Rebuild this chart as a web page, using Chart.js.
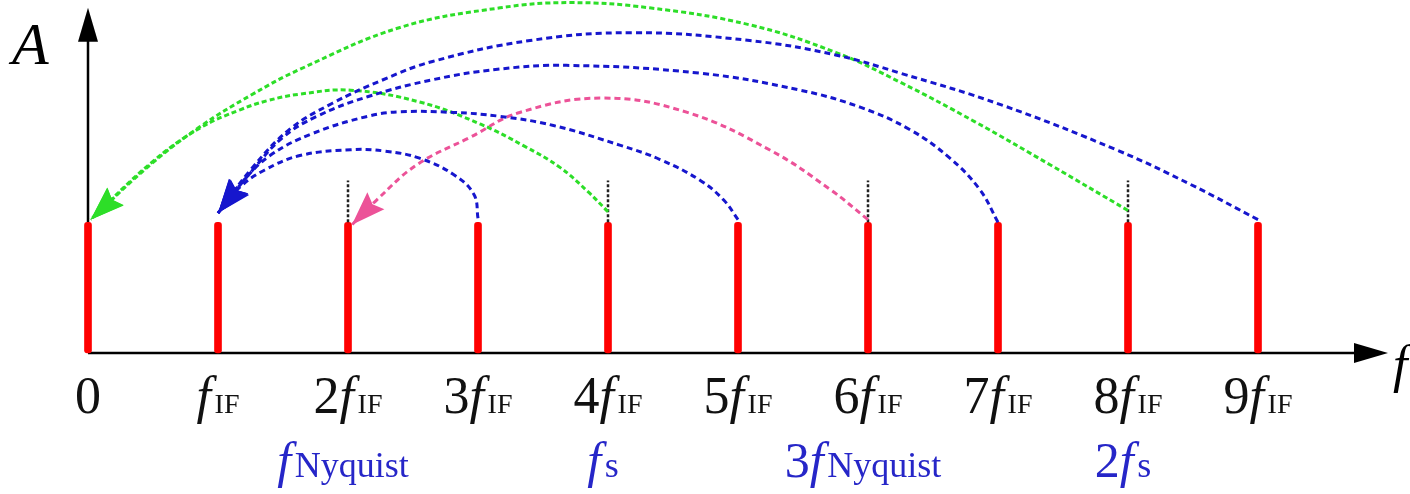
<!DOCTYPE html>
<html>
<head>
<meta charset="utf-8">
<script src="https://cdn.jsdelivr.net/npm/chart.js@4.4.1/dist/chart.umd.min.js"></script>
<style>
  html, body { margin: 0; padding: 0; background: #fff; }
  #wrap { width: 1410px; height: 494px; }
</style>
</head>
<body>
<div id="wrap"><canvas id="chartSpectrum"></canvas></div>
<script>
// harmonics of the IF frequency and their amplitude
const harmonics = [0, 1, 2, 3, 4, 5, 6, 7, 8, 9];
const amplitude = [1, 1, 1, 1, 1, 1, 1, 1, 1, 1];
const tickLabels = ['0', 'f_IF', '2f_IF', '3f_IF', '4f_IF', '5f_IF', '6f_IF', '7f_IF', '8f_IF', '9f_IF'];

// sampling related marks under the axis
const samplingAt = [2, 4, 6, 8];
const samplingLabels = ['f_Nyquist', 'f_s', '3f_Nyquist', '2f_s'];
const markerTop = 1.32;

// folding arcs (x in fIF, y in amplitude units), start -> arrow tip
const arcBlue3 = [[3.0, 1.03], [2.97, 1.21], [2.82, 1.36], [2.55, 1.49], [2.28, 1.545], [2.02, 1.555], [1.63, 1.51], [1.36, 1.40], [1.17, 1.27], [1.0, 1.07]];
const arcBlue5 = [[5.0, 1.02], [4.89, 1.17], [4.71, 1.32], [4.40, 1.48], [4.09, 1.59], [3.58, 1.74], [3.17, 1.81], [2.81, 1.84], [2.40, 1.845], [2.15, 1.81], [1.73, 1.68], [1.40, 1.51], [1.17, 1.29], [1.0, 1.07]];
const arcBlue7 = [[7.0, 1.0], [6.86, 1.25], [6.63, 1.49], [6.32, 1.71], [5.94, 1.88], [5.48, 2.01], [4.71, 2.14], [3.68, 2.20], [3.15, 2.17], [2.65, 2.09], [2.15, 1.96], [1.76, 1.81], [1.5, 1.65], [1.25, 1.38], [1.0, 1.07]];
const arcBlue9 = [[9.0, 1.02], [8.48, 1.29], [7.92, 1.55], [7.02, 1.90], [6.25, 2.14], [5.75, 2.28], [5.09, 2.39], [4.19, 2.45], [3.40, 2.39], [2.65, 2.23], [2.27, 2.09], [1.88, 1.91], [1.55, 1.71], [1.25, 1.40], [1.0, 1.07]];
const arcGreen8 = [[8.0, 1.09], [7.40, 1.44], [6.82, 1.77], [6.25, 2.07], [5.75, 2.30], [5.09, 2.51], [4.32, 2.64], [3.71, 2.68], [3.17, 2.64], [2.40, 2.49], [1.63, 2.17], [1.25, 1.97], [0.86, 1.73], [0.48, 1.44], [0.02, 1.02]];
const arcGreen4 = [[4.0, 1.08], [3.85, 1.23], [3.63, 1.42], [3.36, 1.58], [3.02, 1.75], [2.55, 1.92], [2.02, 2.01], [1.63, 1.98], [1.38, 1.93], [1.17, 1.86], [0.86, 1.72], [0.48, 1.45], [0.02, 1.02]];
const arcPink6 = [[6.0, 1.02], [5.71, 1.25], [5.25, 1.55], [4.61, 1.84], [3.96, 1.95], [3.32, 1.84], [2.94, 1.65], [2.53, 1.44], [2.22, 1.17], [2.03, 0.98]];

const colors = {
  red: 'rgb(255, 0, 0)',
  blue: 'rgb(22, 22, 205)',
  green: 'rgb(45, 222, 40)',
  pink: 'rgb(236, 82, 152)',
  label: 'rgb(38, 38, 200)'
};

function toPoints(arr) {
  return arr.map(p => ({ x: p[0], y: p[1] }));
}

function arcDataset(arr, color, dash) {
  return {
    type: 'line',
    data: toPoints(arr),
    borderColor: color,
    backgroundColor: color,
    borderWidth: 3,
    borderDash: dash,
    tension: 0.4,
    pointRadius: 0,
    fill: false,
    clip: false,
    arrow: true
  };
}

// black dashed markers above 2, 4, 6, 8 fIF
let markerSets = samplingAt.map(k => ({
  type: 'line',
  data: [{ x: k, y: 1.0 }, { x: k, y: markerTop }],
  borderColor: '#222',
  borderWidth: 2.5,
  borderDash: [3, 2],
  pointRadius: 0,
  tension: 0
}));

const axesPlugin = {
  id: 'axesPlugin',
  beforeDatasetsDraw(chart) {
    const ctx = chart.ctx;
    const xs = chart.scales.x, ys = chart.scales.y;
    let x0 = xs.getPixelForValue(0), y0 = ys.getPixelForValue(0);
    let xEnd = xs.getPixelForValue(10), yEnd = ys.getPixelForValue(2.64);
    ctx.save();
    ctx.strokeStyle = '#000';
    ctx.fillStyle = '#000';
    ctx.lineWidth = 2.5;
    ctx.beginPath();
    ctx.moveTo(x0, y0); ctx.lineTo(xEnd - 30, y0);
    ctx.moveTo(x0, y0); ctx.lineTo(x0, yEnd + 30);
    ctx.stroke();
    // arrow heads
    ctx.beginPath();
    ctx.moveTo(xEnd, y0); ctx.lineTo(xEnd - 34, y0 - 10); ctx.lineTo(xEnd - 34, y0 + 10);
    ctx.closePath(); ctx.fill();
    ctx.beginPath();
    ctx.moveTo(x0, yEnd); ctx.lineTo(x0 - 10, yEnd + 34); ctx.lineTo(x0 + 10, yEnd + 34);
    ctx.closePath(); ctx.fill();
    ctx.restore();
  }
};

const arrowPlugin = {
  id: 'arrowPlugin',
  afterDatasetsDraw(chart) {
    const ctx = chart.ctx;
    chart.data.datasets.forEach((ds, i) => {
      if (!ds.arrow) return;
      let pts = chart.getDatasetMeta(i).data;
      let tip = pts[pts.length - 1];
      let prev = pts[pts.length - 2];
      let bx = tip.cp1x !== undefined ? tip.cp1x : prev.x;
      let by = tip.cp1y !== undefined ? tip.cp1y : prev.y;
      if (Math.hypot(tip.x - bx, tip.y - by) < 1) { bx = prev.x; by = prev.y; }
      let a = Math.atan2(tip.y - by, tip.x - bx);
      let len = 34, half = 12;
      ctx.save();
      ctx.fillStyle = ds.borderColor;
      ctx.translate(tip.x, tip.y);
      ctx.rotate(a);
      ctx.beginPath();
      ctx.moveTo(0, 0);
      ctx.lineTo(-len, -half);
      ctx.lineTo(-len * 0.86, 0);
      ctx.lineTo(-len, half);
      ctx.closePath();
      ctx.fill();
      ctx.restore();
    });
  }
};

// text like "2f_IF": leading number, italic f, smaller subscript
function drawRich(ctx, text, cx, baseline, mainSize, subSize, color) {
  let parts = text.split('_');
  let head = parts[0], sub = parts[1] || '';
  let fi = head.indexOf('f');
  let pre = fi >= 0 ? head.slice(0, fi) : head;
  let regFont = mainSize + 'px "Liberation Serif", "Times New Roman", serif';
  let itaFont = 'italic ' + regFont;
  let subFont = subSize + 'px "Liberation Serif", "Times New Roman", serif';

  ctx.font = regFont; let wPre = ctx.measureText(pre).width;
  ctx.font = itaFont; let wF = fi >= 0 ? ctx.measureText('f').width + mainSize * 0.07 : 0;
  ctx.font = subFont; let wSub = ctx.measureText(sub).width;

  let x = cx - (wPre + wF + wSub) / 2;
  ctx.fillStyle = color;
  ctx.textBaseline = 'alphabetic';
  ctx.textAlign = 'left';
  ctx.font = regFont; ctx.fillText(pre, x, baseline); x += wPre;
  if (fi >= 0) { ctx.font = itaFont; ctx.fillText('f', x, baseline); x += wF; }
  ctx.font = subFont; ctx.fillText(sub, x, baseline);
}

const labelPlugin = {
  id: 'labelPlugin',
  afterDraw(chart) {
    const ctx = chart.ctx;
    const xs = chart.scales.x;
    ctx.save();
    harmonics.forEach((h, i) => {
      drawRich(ctx, tickLabels[i], xs.getPixelForValue(h), 413, 52, 28, '#111');
    });
    samplingAt.forEach((k, i) => {
      drawRich(ctx, samplingLabels[i], xs.getPixelForValue(k) - 5, 477, 50, 36, colors.label);
    });
    ctx.fillStyle = '#000';
    ctx.font = 'italic 60px "Liberation Serif", "Times New Roman", serif';
    ctx.fillText('A', 12, 64);
    ctx.font = 'italic 52px "Liberation Serif", "Times New Roman", serif';
    ctx.fillText('f', 1393, 382);
    ctx.restore();
  }
};

let chartCtx = document.getElementById('chartSpectrum').getContext('2d');
new Chart(chartCtx, {
  type: 'bar',
  data: {
    datasets: [
      arcDataset(arcBlue3, colors.blue, [6, 4]),
      arcDataset(arcBlue5, colors.blue, [6, 4]),
      arcDataset(arcBlue7, colors.blue, [6, 4]),
      arcDataset(arcBlue9, colors.blue, [6, 4]),
      arcDataset(arcGreen8, colors.green, [5, 3]),
      arcDataset(arcGreen4, colors.green, [5, 3]),
      arcDataset(arcPink6, colors.pink, [6, 4]),
      ...markerSets,
      {
        type: 'bar',
        data: harmonics.map((h, i) => ({ x: h, y: amplitude[i] })),
        backgroundColor: colors.red,
        barThickness: 7,
        borderRadius: 3,
        borderSkipped: false,
        clip: false
      }
    ]
  },
  options: {
    responsive: true,
    maintainAspectRatio: false,
    animation: false,
    events: [],
    layout: { padding: { left: 88, right: 22, top: 0, bottom: 141 } },
    plugins: {
      legend: { display: false },
      tooltip: { enabled: false },
      title: { display: false }
    },
    scales: {
      x: { type: 'linear', min: 0, max: 10, offset: false, display: false },
      y: { type: 'linear', min: 0, max: 2.7, display: false }
    }
  },
  plugins: [axesPlugin, arrowPlugin, labelPlugin]
});
</script>
</body>
</html>
